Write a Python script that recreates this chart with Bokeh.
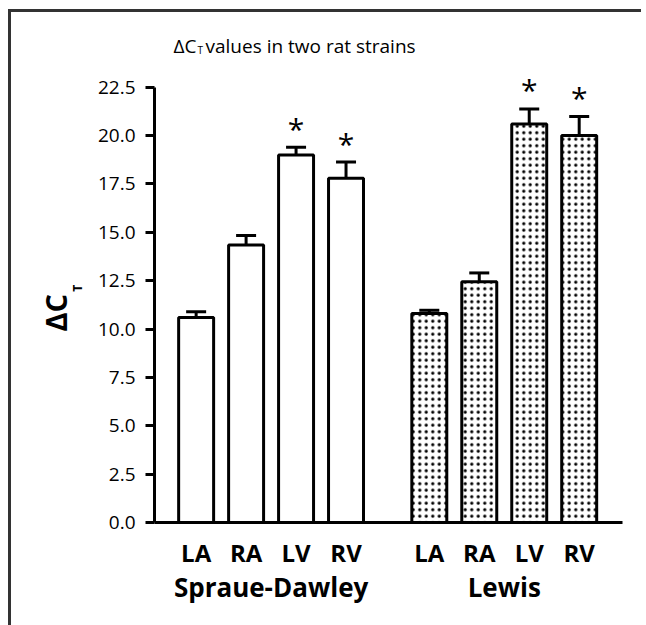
import math
from bokeh.plotting import figure
from bokeh.layouts import row, column
from bokeh.models import (Range1d, FixedTicker, PrintfTickFormatter,
                          ColumnDataSource, Whisker, TeeHead, Label)
from bokeh.core.properties import value
from bokeh.embed import file_html
from bokeh.resources import INLINE

# ---- data ----
strains = ["Spraue-Dawley", "Lewis"]
chambers = ["LA", "RA", "LV", "RV"]
sd_mean = [10.6, 14.35, 19.0, 17.8]
sd_sem = [0.3, 0.48, 0.4, 0.83]
lewis_mean = [10.8, 12.45, 20.6, 20.0]
lewis_sem = [0.17, 0.45, 0.78, 0.98]
significant = [False, False, True, True]
y_ticks = [0, 2.5, 5, 7.5, 10, 12.5, 15, 17.5, 20, 22.5]

FONT = "Open Sans"

# ---- layout constants ----
BAR_STEP, GROUP_STEP, BAR_W = 3, 14, 2.1   # x positions in slot units
X_START, X_END = -2.5, 25.6
Y0, Y_AX, Y1 = 0, 22.5, 26                 # axis drawn 0..22.5, frame extends to 26
YLAB_W = 80
FRAME_W, FRAME_H = 468, 503
ML, MR, MT, MB = 63, 19, 7, 14
MAIN_H = MT + FRAME_H + MB
BOTTOM_H = 613 - MAIN_H

pos = [[g * GROUP_STEP + i * BAR_STEP for i in range(len(chambers))] for g in range(len(strains))]
group_centres = [sum(ps) / len(ps) for ps in pos]


def source(xs, means, sems):
    return ColumnDataSource(dict(x=xs, top=means, upper=[m + e for m, e in zip(means, sems)]))


sd_src = source(pos[0], sd_mean, sd_sem)
lw_src = source(pos[1], lewis_mean, lewis_sem)

star_x, star_y = [], []
for src in (sd_src, lw_src):
    for x, u, s in zip(src.data["x"], src.data["upper"], significant):
        if s:
            star_x.append(x)
            star_y.append(u)
star_src = ColumnDataSource(dict(x=star_x, y=star_y, t=["*"] * len(star_x)))

xr = Range1d(X_START, X_END)
p = figure(frame_width=FRAME_W, frame_height=FRAME_H, output_backend="svg",
           toolbar_location=None, x_range=xr, y_range=Range1d(Y0, Y1),
           min_border_left=ML, min_border_right=MR, min_border_top=MT, min_border_bottom=MB)
p.outline_line_color = None
p.xgrid.grid_line_color = None
p.ygrid.grid_line_color = None

# bars
p.vbar(x="x", top="top", width=BAR_W, source=sd_src, fill_color="white",
       line_color="black", line_width=3)
p.vbar(x="x", top="top", width=BAR_W, source=lw_src, fill_color="white",
       hatch_pattern=".", hatch_color="black", hatch_scale=6.5, hatch_weight=1.2,
       line_color="black", line_width=3)

# error bars (upper only)
for src in (sd_src, lw_src):
    p.add_layout(Whisker(source=src, base="x", lower="top", upper="upper",
                         dimension="height", line_color="black", line_width=3,
                         upper_head=TeeHead(size=20, line_width=3, line_color="black"),
                         lower_head=None))

# significance stars
p.text(x="x", y="y", text="t", source=star_src, text_align="center",
       text_baseline="alphabetic", y_offset=-19, text_font_size="30px",
       text_font=value(FONT), text_color="black")

# y axis
ya = p.yaxis[0]
ya.bounds = (Y0, Y_AX)
ya.ticker = FixedTicker(ticks=y_ticks)
ya.formatter = PrintfTickFormatter(format="%.1f")
ya.axis_line_width = 3
ya.axis_line_color = "black"
ya.major_tick_line_width = 3
ya.major_tick_line_color = "black"
ya.major_tick_out = 9
ya.major_tick_in = 0
ya.minor_tick_line_color = None
ya.major_label_text_font = FONT
ya.major_label_text_font_size = "19px"
ya.major_label_text_color = "black"
ya.major_label_standoff = 10

# x axis: only the base line (category names are drawn in the strip below)
xa = p.xaxis[0]
xa.ticker = FixedTicker(ticks=[])
xa.axis_line_width = 3
xa.axis_line_color = "black"
xa.major_tick_out = 0
xa.major_tick_in = 0
xa.major_tick_line_color = None
xa.minor_tick_line_color = None

# pixel (main canvas, origin top-left) -> data, for annotation placement
PX_PER_X = FRAME_W / (X_END - X_START)
PX_PER_Y = FRAME_H / (Y1 - Y0)


def dx(cx):
    return X_START + (cx - ML) / PX_PER_X


def dy(cy):
    return Y1 - (cy - MT) / PX_PER_Y


def title_piece(cx, cy, text, size):
    p.add_layout(Label(x=dx(cx), y=dy(cy), text=text, text_font=FONT, text_font_size=size,
                       text_color="black", text_baseline="middle", text_align="left"))


# title: ΔC with small T, then the rest
title_piece(82, 33.6, "ΔC", "19px")
title_piece(106, 37.6, "T", "10px")
title_piece(114, 33.6, "values in two rat strains", "19px")

# ---- strip with the rotated y-axis label ----
yl = figure(width=YLAB_W, height=MAIN_H, output_backend="svg", toolbar_location=None,
            x_range=Range1d(0, YLAB_W), y_range=Range1d(MAIN_H, 0),
            min_border=0, x_axis_type=None, y_axis_type=None)
yl.outline_line_color = None
yl.xgrid.grid_line_color = None
yl.ygrid.grid_line_color = None
yl.add_layout(Label(x=43.5, y=305.5, text="ΔC", text_font=FONT, text_font_size="29px",
                    text_font_style="bold", text_color="black", angle=math.pi / 2,
                    text_baseline="middle", text_align="center"))
yl.add_layout(Label(x=66, y=280, text="T", text_font=FONT, text_font_size="12px",
                    text_font_style="bold", text_color="black", angle=math.pi / 2,
                    text_baseline="middle", text_align="center"))

# ---- strip with chamber and strain names, sharing the x range ----
bt = figure(frame_width=FRAME_W, frame_height=BOTTOM_H, output_backend="svg",
            toolbar_location=None, x_range=xr, y_range=Range1d(BOTTOM_H, 0),
            min_border_left=YLAB_W + ML, min_border_right=MR, min_border_top=0,
            min_border_bottom=0, x_axis_type=None, y_axis_type=None)
bt.outline_line_color = None
bt.xgrid.grid_line_color = None
bt.ygrid.grid_line_color = None
chamber_x = [x for ps in pos for x in ps]
chamber_t = [c for _ in strains for c in chambers]
bt.text(x=chamber_x, y=[16.4] * len(chamber_x), text=chamber_t, text_align="center",
        text_baseline="middle", text_font=value(FONT), text_font_size="24px",
        text_font_style="bold", text_color="black")
bt.text(x=group_centres, y=[50.6] * len(strains), text=strains, text_align="center",
        text_baseline="middle", text_font=value(FONT), text_font_size="26px",
        text_font_style="bold", text_color="black")

layout = column(row(yl, p, spacing=0), bt, spacing=0)
layout.styles = {"border-top": "3px solid #333333", "border-left": "3px solid #333333",
                 "margin-top": "9px", "margin-left": "8px"}

open("out.html", "w").write(file_html(layout, INLINE))
